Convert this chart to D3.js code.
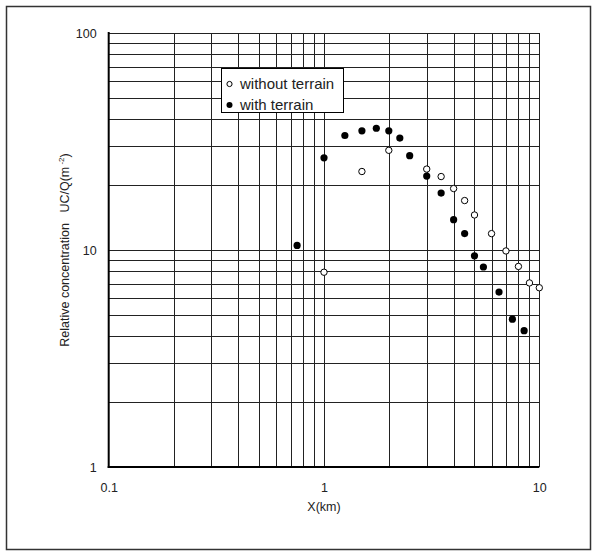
<!DOCTYPE html>
<html>
<head>
<meta charset="utf-8">
<script src="https://cdn.jsdelivr.net/npm/d3@7"></script>
<style>
body { margin: 0; background: #fff; }
text { font-family: Arial, "Liberation Sans", sans-serif; fill: #222; }
</style>
</head>
<body>
<script>
// distance (km) and relative concentration
var withoutX = [1, 1.5, 2, 3, 3.5, 4, 4.5, 5, 6, 7, 8, 9, 10];
var withoutY = [7.9, 23, 28.8, 23.6, 21.8, 19.2, 16.9, 14.5, 11.9, 9.9, 8.4, 7.05, 6.7];
var withX = [0.75, 1, 1.25, 1.5, 1.75, 2, 2.25, 2.5, 3, 3.5, 4, 4.5, 5, 5.5, 6.5, 7.5, 8.5];
var withY = [10.5, 26.6, 33.7, 35.4, 36.4, 35.4, 32.8, 27.2, 21.9, 18.3, 13.8, 11.9, 9.4, 8.35, 6.4, 4.8, 4.25];

var xTicks = [0.1, 1, 10];
var yTicks = [1, 10, 100];
var seriesNames = ["without terrain", "with terrain"];

var width = 593;
var height = 552;

var svg = d3.select("body")
.append("svg")
.attr("width", width)
.attr("height", height);

// outer frame
svg.append("rect")
.attr("x", 6.5)
.attr("y", 6.5)
.attr("width", 584)
.attr("height", 543)
.attr("fill", "none")
.attr("stroke", "#333")
.attr("stroke-width", 1.5)

var xScale = d3.scaleLog().domain([0.1, 10]).range([108.7, 539.3]);
var yScale = d3.scaleLog().domain([1, 100]).range([467, 33]);

// log grid
var xGrid = [];
var yGrid = [];
[0.1, 1].forEach(function(d) {
	for (var k = 2; k <= 10; k++) xGrid.push(d * k);
});
[1, 10].forEach(function(d) {
	for (var k = 2; k <= 10; k++) yGrid.push(d * k);
});

svg.selectAll(".vgrid")
	.data(xGrid)
	.enter()
	.append("line")
	.attr("x1", (d) => Math.round(xScale(d)) + 0.5)
	.attr("x2", (d) => Math.round(xScale(d)) + 0.5)
	.attr("y1", yScale(1))
	.attr("y2", yScale(100))
	.attr("stroke", "#222")
	.attr("stroke-width", 1)

svg.selectAll(".hgrid")
	.data(yGrid)
	.enter()
	.append("line")
	.attr("y1", (d) => Math.round(yScale(d)) + 0.5)
	.attr("y2", (d) => Math.round(yScale(d)) + 0.5)
	.attr("x1", xScale(0.1))
	.attr("x2", xScale(10))
	.attr("stroke", "#222")
	.attr("stroke-width", 1)

// heavier left and bottom axis lines
svg.append("line")
.attr("x1", xScale(0.1))
.attr("x2", xScale(0.1))
.attr("y1", yScale(100) - 1)
.attr("y2", yScale(1) + 1)
.attr("stroke", "#000")
.attr("stroke-width", 2)

svg.append("line")
.attr("x1", xScale(0.1) - 1)
.attr("x2", xScale(10))
.attr("y1", yScale(1))
.attr("y2", yScale(1))
.attr("stroke", "#000")
.attr("stroke-width", 2)

var xAxis = svg.append("g")
	.attr("transform", "translate(0," + yScale(1) + ")")
	.call(d3.axisBottom(xScale).tickValues(xTicks).tickFormat(d3.format("")).tickSize(0).tickPadding(16));
xAxis.select(".domain").remove();

var yAxis = svg.append("g")
	.attr("transform", "translate(" + xScale(0.1) + ",0)")
	.call(d3.axisLeft(yScale).tickValues(yTicks).tickFormat(d3.format("")).tickSize(0).tickPadding(12));
yAxis.select(".domain").remove();

svg.selectAll(".tick text")
	.attr("font-size", 12.5)
	.attr("font-family", "Arial, 'Liberation Sans', sans-serif")
	.attr("fill", "#222")

svg.append("text")
.attr("x", xScale(1))
.attr("y", 511)
.attr("text-anchor", "middle")
.attr("font-size", 12.5)
.text("X(km)")

var yLabel = svg.append("text")
.attr("transform", "translate(69," + yScale(10) + ") rotate(-90)")
.attr("text-anchor", "middle")
.attr("font-size", 12.5)
.style("white-space", "pre")
yLabel.append("tspan").text("Relative concentration   UC/Q(m");
yLabel.append("tspan").attr("font-size", 8).attr("dy", -5).text(" -2");
yLabel.append("tspan").attr("dy", 5).text(")");

// points
var withData = withX.map((d, i) => ({x: d, y: withY[i]}));
var withoutData = withoutX.map((d, i) => ({x: d, y: withoutY[i]}));

svg.selectAll(".without")
	.data(withoutData)
	.enter()
	.append("circle")
	.attr("cx", (d) => xScale(d.x))
	.attr("cy", (d) => yScale(d.y))
	.attr("r", 3.2)
	.attr("fill", "#fff")
	.attr("stroke", "#000")
	.attr("stroke-width", 1)

svg.selectAll(".with")
	.data(withData)
	.enter()
	.append("circle")
	.attr("cx", (d) => xScale(d.x))
	.attr("cy", (d) => yScale(d.y))
	.attr("r", 3.6)
	.attr("fill", "#000")

// legend
var legend = svg.append("g");
legend.append("rect")
.attr("x", 221.5)
.attr("y", 68.5)
.attr("width", 122)
.attr("height", 44)
.attr("fill", "#fff")
.attr("stroke", "#000")
.attr("stroke-width", 1)

seriesNames.forEach(function(name, i) {
	var cy = 84 + i * 21;
	legend.append("circle")
	.attr("cx", 229.5)
	.attr("cy", cy)
	.attr("r", i == 0 ? 2.6 : 3)
	.attr("fill", i == 0 ? "#fff" : "#000")
	.attr("stroke", "#000")
	.attr("stroke-width", i == 0 ? 1 : 0)
	legend.append("text")
	.attr("x", 240)
	.attr("y", cy + 5)
	.attr("font-size", 15)
	.text(name)
});
</script>
</body>
</html>
